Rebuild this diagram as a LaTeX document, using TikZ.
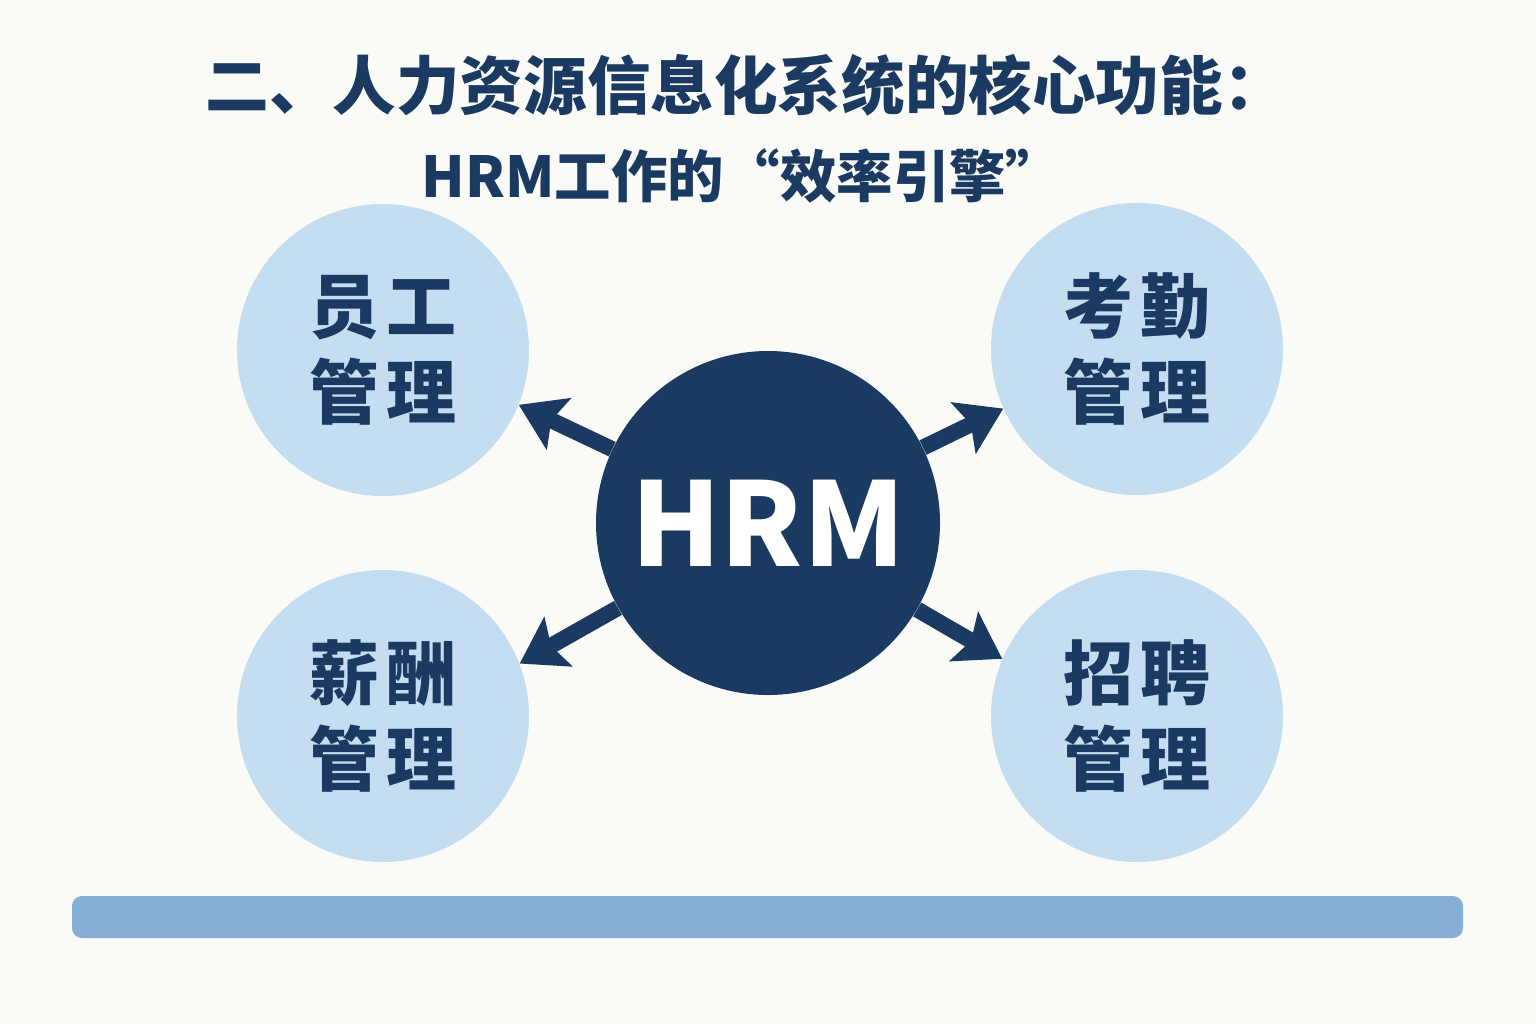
\documentclass[tikz,border=0pt]{standalone}
\usepackage{fontspec}
\usetikzlibrary{arrows.meta}
\newfontfamily\cjk{Noto Sans CJK SC}
\definecolor{bgwhite}{HTML}{FAFAF6}
\definecolor{navy}{HTML}{1B3A61}
\definecolor{lightblue}{HTML}{C5DDF0}
\definecolor{barblue}{HTML}{85AFD4}

\begin{document}
\begin{tikzpicture}[
		x=0.5pt, y=-0.5pt,
		every node/.style={font=\cjk\bfseries, text=navy, inner sep=0pt},
		func/.style={circle, fill=lightblue, minimum size=146pt, align=center,
			font=\cjk\bfseries\fontsize{35}{43}\selectfont},
		arr/.style={navy, line width=8pt, -{Stealth[length=22pt, width=28pt, inset=4pt]}}
	]
  \fill [bgwhite] (0,0) rectangle (1536,1024);
  \useasboundingbox (0,0) rectangle (1536,1024);
  \node (title) [anchor=west, font=\cjk\bfseries\fontsize{31.8}{36}\selectfont] at (205,85) {二、人力资源信息化系统的核心功能：};
  \node (subtitle) [font=\cjk\bfseries\fontsize{28.2}{32}\selectfont] at (742,176) {HRM工作的“效率引擎”};
  \node (yg) [func] at (383,350) {员\hspace{4pt}工\\管\hspace{4pt}理};
  \node (kq) [func] at (1137,349) {考\hspace{4pt}勤\\管\hspace{4pt}理};
  \node (xc) [func] at (383,716) {薪\hspace{4pt}酬\\管\hspace{4pt}理};
  \node (zp) [func] at (1137,716) {招\hspace{4pt}聘\\管\hspace{4pt}理};
  \node (hrm) [circle, fill=navy, minimum size=172pt, text=white, font=\cjk\bfseries\fontsize{58}{60}\selectfont] at (768,523) {HRM};
  \draw [arr] (hrm) -- (yg.-22);
  \draw [arr] (hrm) -- (kq.204);
  \draw [arr] (hrm) -- (xc.21);
  \draw [arr] (hrm) -- (zp.157);
  % bottom bar
  \fill [barblue, rounded corners=5pt] (72,896) rectangle (1463,938);
\end{tikzpicture}
\end{document}
